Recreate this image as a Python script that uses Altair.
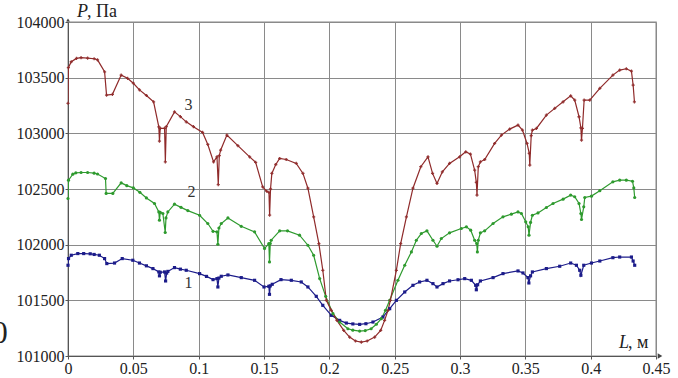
import altair as alt
import pandas as pd

# ---- data ----
x1 = [0, 0.0004, 0.0025, 0.0075, 0.012, 0.017, 0.020, 0.024, 0.028, 0.0297, 0.0356, 0.0415, 0.0496, 0.0547,
      0.060, 0.065, 0.0695, 0.0700, 0.0706, 0.0739, 0.0747, 0.0755, 0.0764, 0.0815, 0.0860, 0.0905, 0.1007,
      0.106, 0.111, 0.114, 0.1147, 0.1155, 0.1173, 0.1224, 0.1326, 0.1428, 0.150, 0.1537, 0.1542, 0.1548,
      0.1563, 0.163, 0.1709, 0.1785, 0.1836, 0.190, 0.195, 0.2015, 0.2079, 0.213, 0.218, 0.2232, 0.228,
      0.2334, 0.241, 0.2462, 0.2513, 0.2577, 0.264, 0.2691, 0.2747, 0.2793, 0.2824, 0.287, 0.292, 0.2985,
      0.3036, 0.3087, 0.312, 0.3125, 0.3135, 0.3156, 0.3253, 0.3329, 0.3444, 0.3482, 0.352, 0.3527, 0.3540,
      0.3554, 0.3661, 0.3763, 0.3847, 0.3891, 0.3916, 0.3925, 0.3947, 0.4006, 0.407, 0.417, 0.4222, 0.4312,
      0.4325, 0.4337]
y1 = [101815, 101875, 101905, 101920, 101920, 101918, 101912, 101905, 101875, 101830, 101835, 101875, 101860,
      101835, 101810, 101785, 101755, 101720, 101752, 101755, 101674, 101745, 101760, 101794, 101780, 101770,
      101740, 101715, 101686, 101695, 101620, 101700, 101716, 101728, 101704, 101680, 101620, 101626, 101554,
      101630, 101644, 101686, 101680, 101665, 101620, 101536, 101455, 101365, 101320, 101296, 101288, 101284,
      101290, 101305, 101350, 101425, 101500, 101575, 101635, 101665, 101680, 101650, 101620, 101650, 101674,
      101685, 101695, 101680, 101635, 101595, 101640, 101674, 101704, 101740, 101764, 101746, 101704, 101656,
      101720, 101755, 101785, 101806, 101835, 101815, 101770, 101725, 101815, 101835, 101853, 101883, 101889,
      101889, 101853, 101815]

x2 = [0, 0.0004, 0.0037, 0.006, 0.010, 0.015, 0.020, 0.0226, 0.0287, 0.0292, 0.0343, 0.0407, 0.045, 0.050,
      0.055, 0.060, 0.0662, 0.0695, 0.0700, 0.0706, 0.0726, 0.0744, 0.0750, 0.0764, 0.0815, 0.0865, 0.0917,
      0.1007, 0.107, 0.111, 0.114, 0.1147, 0.1155, 0.1173, 0.1224, 0.1326, 0.1428, 0.1504, 0.1537, 0.1542,
      0.1548, 0.1555, 0.162, 0.168, 0.1772, 0.1836, 0.188, 0.1926, 0.1972, 0.2028, 0.2079, 0.2142, 0.2180,
      0.2232, 0.2275, 0.232, 0.2360, 0.2398, 0.2430, 0.2462, 0.2525, 0.2577, 0.2628, 0.2666, 0.2704, 0.2747,
      0.2793, 0.2824, 0.2857, 0.292, 0.301, 0.3049, 0.3082, 0.3112, 0.3128, 0.3133, 0.3140, 0.3156, 0.3189,
      0.3253, 0.3329, 0.3393, 0.3444, 0.347, 0.3503, 0.3522, 0.3528, 0.3540, 0.3554, 0.3597, 0.3661, 0.3712,
      0.3789, 0.3847, 0.3878, 0.3911, 0.3925, 0.393, 0.3947, 0.3955, 0.4006, 0.407, 0.417, 0.4222, 0.4273,
      0.432, 0.433, 0.4337]
y2 = [102415, 102579, 102633, 102645, 102648, 102648, 102642, 102635, 102594, 102460, 102460, 102555, 102530,
      102510, 102470, 102420, 102370, 102294, 102220, 102290, 102280, 102109, 102240, 102294, 102364, 102335,
      102306, 102264, 102190, 102120, 102115, 102004, 102150, 102190, 102240, 102165, 102115, 101965, 102010,
      101845, 102010, 102040, 102124, 102124, 102085, 101995, 101905, 101695, 101536, 101380, 101305, 101245,
      101232, 101224, 101228, 101245, 101285, 101335, 101410, 101500, 101680, 101815, 101935, 102040, 102100,
      102124, 102040, 101986, 102055, 102106, 102145, 102160, 102130, 102040, 102010, 101935, 102040, 102106,
      102124, 102190, 102250, 102274, 102294, 102280, 102205, 102160, 102085, 102200, 102264, 102285, 102334,
      102370, 102409, 102445, 102430, 102370, 102280, 102226, 102340, 102424, 102436, 102485, 102564, 102579,
      102579, 102570, 102510, 102424]

x3 = [0, 0.0003, 0.0025, 0.0065, 0.010, 0.015, 0.020, 0.0226, 0.028, 0.0295, 0.034, 0.0407, 0.0456, 0.050,
      0.0547, 0.060, 0.0655, 0.0695, 0.0700, 0.0706, 0.0739, 0.0745, 0.0752, 0.0815, 0.086, 0.0905, 0.096,
      0.103, 0.107, 0.1114, 0.114, 0.1150, 0.1158, 0.1168, 0.1216, 0.130, 0.139, 0.1436, 0.149, 0.152, 0.1538,
      0.1543, 0.155, 0.156, 0.159, 0.162, 0.167, 0.1747, 0.1798, 0.1836, 0.188, 0.192, 0.195, 0.1977, 0.2015,
      0.2058, 0.211, 0.2155, 0.220, 0.2245, 0.229, 0.2347, 0.2393, 0.2423, 0.2449, 0.2467, 0.2513, 0.2546,
      0.259, 0.264, 0.270, 0.2755, 0.279, 0.2824, 0.2865, 0.292, 0.2997, 0.3044, 0.308, 0.3112, 0.3125, 0.3130,
      0.3140, 0.3156, 0.3189, 0.3265, 0.3317, 0.338, 0.3444, 0.3478, 0.3513, 0.3530, 0.3534, 0.3545, 0.3554,
      0.3585, 0.3661, 0.3725, 0.3789, 0.3847, 0.3878, 0.3911, 0.3925, 0.393, 0.3937, 0.395, 0.3993, 0.407,
      0.417, 0.4222, 0.4273, 0.4312, 0.4325, 0.4335]
y3 = [103270, 103590, 103643, 103673, 103680, 103675, 103670, 103660, 103553, 103343, 103350, 103523, 103494,
      103450, 103390, 103340, 103283, 103058, 102930, 103045, 103045, 102744, 103060, 103193, 103150, 103103,
      103060, 103008, 102900, 102744, 102789, 102540, 102800, 102849, 102984, 102890, 102789, 102740, 102519,
      102480, 102470, 102265, 102500, 102640, 102720, 102774, 102765, 102730, 102640, 102507, 102250, 102010,
      101770, 101500, 101410, 101320, 101230, 101170, 101135, 101125, 101135, 101170, 101230, 101320, 101410,
      101500, 101770, 102010, 102250, 102507, 102700, 102789, 102640, 102550, 102654, 102730, 102789, 102834,
      102813, 102669, 102560, 102445, 102700, 102744, 102765, 102909, 102984, 103038, 103074, 103029, 102909,
      102820, 102714, 102980, 103029, 103044, 103164, 103224, 103283, 103337, 103299, 103149, 103050, 102939,
      103044, 103299, 103299, 103404, 103523, 103568, 103580, 103559, 103434, 103283]

x_ticks = [0, 0.05, 0.1, 0.15, 0.2, 0.25, 0.3, 0.35, 0.4, 0.45]
y_ticks = [101000, 101500, 102000, 102500, 103000, 103500, 104000]

labels_txt = ["1", "2", "3"]
labels_x = [0.0923, 0.0946, 0.0923]
labels_y = [101653, 102471, 103254]

series_names = ["1", "2", "3"]
series_colors = ["#1c1c8a", "#2e9a2e", "#8f2a2a"]

# ---- tables ----
rows = []
for name, xs_, ys_ in zip(series_names, [x1, x2, x3], [y1, y2, y3]):
    for i, (a, b) in enumerate(zip(xs_, ys_)):
        rows.append({"x": a, "y": b, "s": name, "o": i})
df = pd.DataFrame(rows)
lab = pd.DataFrame({"t": labels_txt, "x": labels_x, "y": labels_y})

FONT = "'Liberation Serif', 'Times New Roman', 'DejaVu Serif', serif"
xs = alt.Scale(domain=[0, 0.45], nice=False, zero=False)
ys = alt.Scale(domain=[101000, 104000], nice=False, zero=False)
cs = alt.Scale(domain=series_names, range=series_colors)

X = alt.X("x:Q", scale=xs, axis=alt.Axis(values=x_ticks, format="~g", title=None, grid=True,
                                         labelFont=FONT, labelFontSize=16, labelColor="#222",
                                         labelPadding=1, tickSize=3, labelFlush=False))
Y = alt.Y("y:Q", scale=ys, axis=alt.Axis(values=y_ticks, format="d", title=None, grid=True,
                                         labelFont=FONT, labelFontSize=16, labelColor="#222",
                                         labelPadding=1, tickSize=3))

base = alt.Chart(df)
lines = base.mark_line(strokeWidth=1.2, clip=True).encode(
    x=X, y=Y, color=alt.Color("s:N", scale=cs, legend=None), detail="s:N", order="o:Q")

pts1 = alt.Chart(df[df.s == "1"]).mark_point(shape="square", filled=True, size=10, opacity=1).encode(
    x="x:Q", y="y:Q", color=alt.Color("s:N", scale=cs, legend=None))
pts2 = alt.Chart(df[df.s == "2"]).mark_point(shape="circle", filled=True, size=10, opacity=1).encode(
    x="x:Q", y="y:Q", color=alt.Color("s:N", scale=cs, legend=None))
pts3 = alt.Chart(df[df.s == "3"]).mark_point(shape="cross", filled=True, size=10, opacity=0.9).encode(
    x="x:Q", y="y:Q", color=alt.Color("s:N", scale=cs, legend=None))

curve_labels = alt.Chart(lab).mark_text(font=FONT, fontSize=16, color="#333", baseline="middle").encode(
    x="x:Q", y="y:Q", text="t:N")

ann = alt.Chart(pd.DataFrame({"a": [0]}))
p_it = ann.mark_text(text="P", font=FONT, fontStyle="italic", fontSize=18, align="left",
                     baseline="alphabetic", color="#222").encode(x=alt.value(9), y=alt.value(-5))
p_rest = ann.mark_text(text=", Па", font=FONT, fontSize=18, align="left",
                       baseline="alphabetic", color="#222").encode(x=alt.value(19), y=alt.value(-5))
l_it = ann.mark_text(text="L", font=FONT, fontStyle="italic", fontSize=18, align="left",
                     baseline="alphabetic", color="#222").encode(x=alt.value(551), y=alt.value(326))
l_rest = ann.mark_text(text=", м", font=FONT, fontSize=18, align="left",
                       baseline="alphabetic", color="#222").encode(x=alt.value(560), y=alt.value(326))
arrow_x = ann.mark_point(shape="triangle-right", filled=True, size=28, color="#444", opacity=1).encode(
    x=alt.value(592), y=alt.value(334))
arrow_y = ann.mark_point(shape="triangle-up", filled=True, size=14, color="#444", opacity=1).encode(
    x=alt.value(0), y=alt.value(-2))
zero_glyph = ann.mark_text(text="0", font=FONT, fontSize=31, align="center",
                           baseline="alphabetic", color="#222").encode(x=alt.value(-68), y=alt.value(321))

chart = alt.layer(lines, pts1, pts2, pts3, curve_labels, p_it, p_rest, l_it, l_rest,
                  arrow_x, arrow_y, zero_glyph).properties(
    width=588, height=334,
    autosize=alt.AutoSizeParams(type="none"),
    padding={"left": 68, "top": 22, "right": 22, "bottom": 22},
    background="white",
).configure_axis(
    gridColor="#8a8a8a", gridWidth=1, gridOpacity=1,
    domainColor="#555", domainWidth=1, tickColor="#555",
).configure_view(stroke="#b0b0b0", strokeWidth=1.5)

chart.save("out.html", embed_options={"renderer": "svg", "actions": False})
